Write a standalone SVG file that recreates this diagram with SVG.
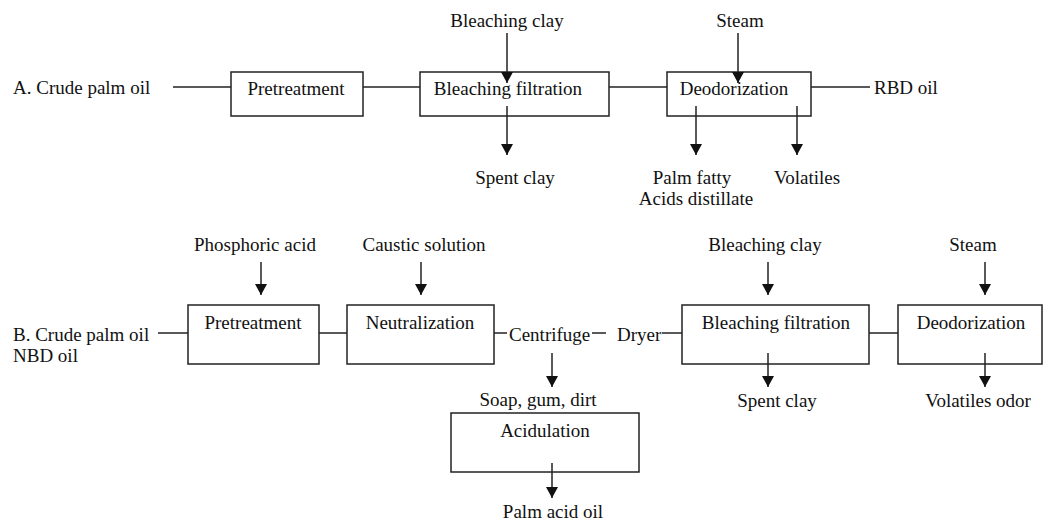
<svg xmlns="http://www.w3.org/2000/svg" width="1046" height="521" viewBox="0 0 1046 521">
<style>
text{font-family:'Liberation Serif','DejaVu Serif',serif;font-size:19px;fill:#111}
.m{text-anchor:middle}
.box{fill:#fff;stroke:#222;stroke-width:1.5}
.ln{stroke:#222;stroke-width:1.5;fill:none}
.ar{stroke:#222;stroke-width:1.5;fill:none;marker-end:url(#ah)}
</style>
<defs>
<marker id="ah" markerUnits="userSpaceOnUse" markerWidth="12" markerHeight="12" viewBox="0 0 12 12" refX="11" refY="6" orient="auto">
<path d="M0,0 L11,6 L0,12 Z" fill="#111"/>
</marker>
</defs>
<rect width="1046" height="521" fill="#fff"/>

<g id="nodes">
<g id="a-input"><text x="13" y="94">A. Crude palm oil</text></g>
<g id="a-pretreatment"><rect class="box" x="231" y="72" width="132" height="44"/><text class="m" x="296" y="95">Pretreatment</text></g>
<g id="a-bleaching"><rect class="box" x="420" y="72" width="189" height="44"/><text class="m" x="508" y="95">Bleaching filtration</text></g>
<g id="a-deodorization"><rect class="box" x="667" y="72" width="144" height="44"/><text class="m" x="734" y="95">Deodorization</text></g>
<g id="a-rbd"><text x="874" y="94">RBD oil</text></g>
<g id="a-bleaching-clay"><text class="m" x="507" y="27">Bleaching clay</text></g>
<g id="a-steam"><text class="m" x="740" y="27">Steam</text></g>
<g id="a-spent-clay"><text class="m" x="515" y="184">Spent clay</text></g>
<g id="a-pfad"><text class="m" x="692" y="184">Palm fatty</text><text class="m" x="696" y="205">Acids distillate</text></g>
<g id="a-volatiles"><text class="m" x="807" y="184">Volatiles</text></g>

<g id="b-input"><text x="13" y="341">B. Crude palm oil</text><text x="13" y="362">NBD oil</text></g>
<g id="b-pretreatment"><rect class="box" x="188" y="305" width="131" height="59"/><text class="m" x="253" y="329">Pretreatment</text></g>
<g id="b-neutralization"><rect class="box" x="347" y="305" width="147" height="59"/><text class="m" x="420" y="329">Neutralization</text></g>
<g id="b-centrifuge"><text x="509" y="341">Centrifuge</text></g>
<g id="b-dryer"><text x="617" y="341">Dryer</text></g>
<g id="b-bleaching"><rect class="box" x="682" y="305" width="187" height="59"/><text class="m" x="776" y="329">Bleaching filtration</text></g>
<g id="b-deodorization"><rect class="box" x="898" y="305" width="144" height="59"/><text class="m" x="971" y="329">Deodorization</text></g>
<g id="b-acidulation"><rect class="box" x="451" y="413" width="188" height="59"/><text class="m" x="545" y="437">Acidulation</text></g>
<g id="b-phosphoric"><text class="m" x="255" y="251">Phosphoric acid</text></g>
<g id="b-caustic"><text class="m" x="424" y="251">Caustic solution</text></g>
<g id="b-bleaching-clay"><text class="m" x="765" y="251">Bleaching clay</text></g>
<g id="b-steam"><text class="m" x="973" y="251">Steam</text></g>
<g id="b-soap"><text class="m" x="538" y="406">Soap, gum, dirt</text></g>
<g id="b-spent-clay"><text class="m" x="777" y="407">Spent clay</text></g>
<g id="b-volatiles"><text class="m" x="978" y="407">Volatiles odor</text></g>
<g id="b-palm-acid-oil"><text class="m" x="553" y="518">Palm acid oil</text></g>
</g>

<g id="connectors">
<line class="ln" x1="173" y1="87" x2="231" y2="87"/>
<line class="ln" x1="363" y1="87" x2="420" y2="87"/>
<line class="ln" x1="609" y1="87" x2="667" y2="87"/>
<line class="ln" x1="811" y1="87" x2="870" y2="87"/>
<line class="ar" x1="507" y1="33" x2="507" y2="83"/>
<line class="ar" x1="738" y1="33" x2="738" y2="83"/>
<line class="ar" x1="507" y1="106" x2="507" y2="155"/>
<line class="ar" x1="696" y1="106" x2="696" y2="155"/>
<line class="ar" x1="797" y1="106" x2="797" y2="155"/>

<line class="ln" x1="158" y1="333" x2="188" y2="333"/>
<line class="ln" x1="319" y1="333" x2="347" y2="333"/>
<line class="ln" x1="494" y1="333" x2="507" y2="333"/>
<line class="ln" x1="592" y1="333" x2="606" y2="333"/>
<line class="ln" x1="662" y1="333" x2="682" y2="333"/>
<line class="ln" x1="869" y1="333" x2="898" y2="333"/>
<line class="ar" x1="261" y1="262" x2="261" y2="295"/>
<line class="ar" x1="421" y1="262" x2="421" y2="295"/>
<line class="ar" x1="768" y1="262" x2="768" y2="295"/>
<line class="ar" x1="985" y1="262" x2="985" y2="295"/>
<line class="ar" x1="552" y1="353" x2="552" y2="387"/>
<line class="ar" x1="768" y1="353" x2="768" y2="387"/>
<line class="ar" x1="985" y1="353" x2="985" y2="387"/>
<line class="ar" x1="552" y1="463" x2="552" y2="498"/>
</g>
</svg>
